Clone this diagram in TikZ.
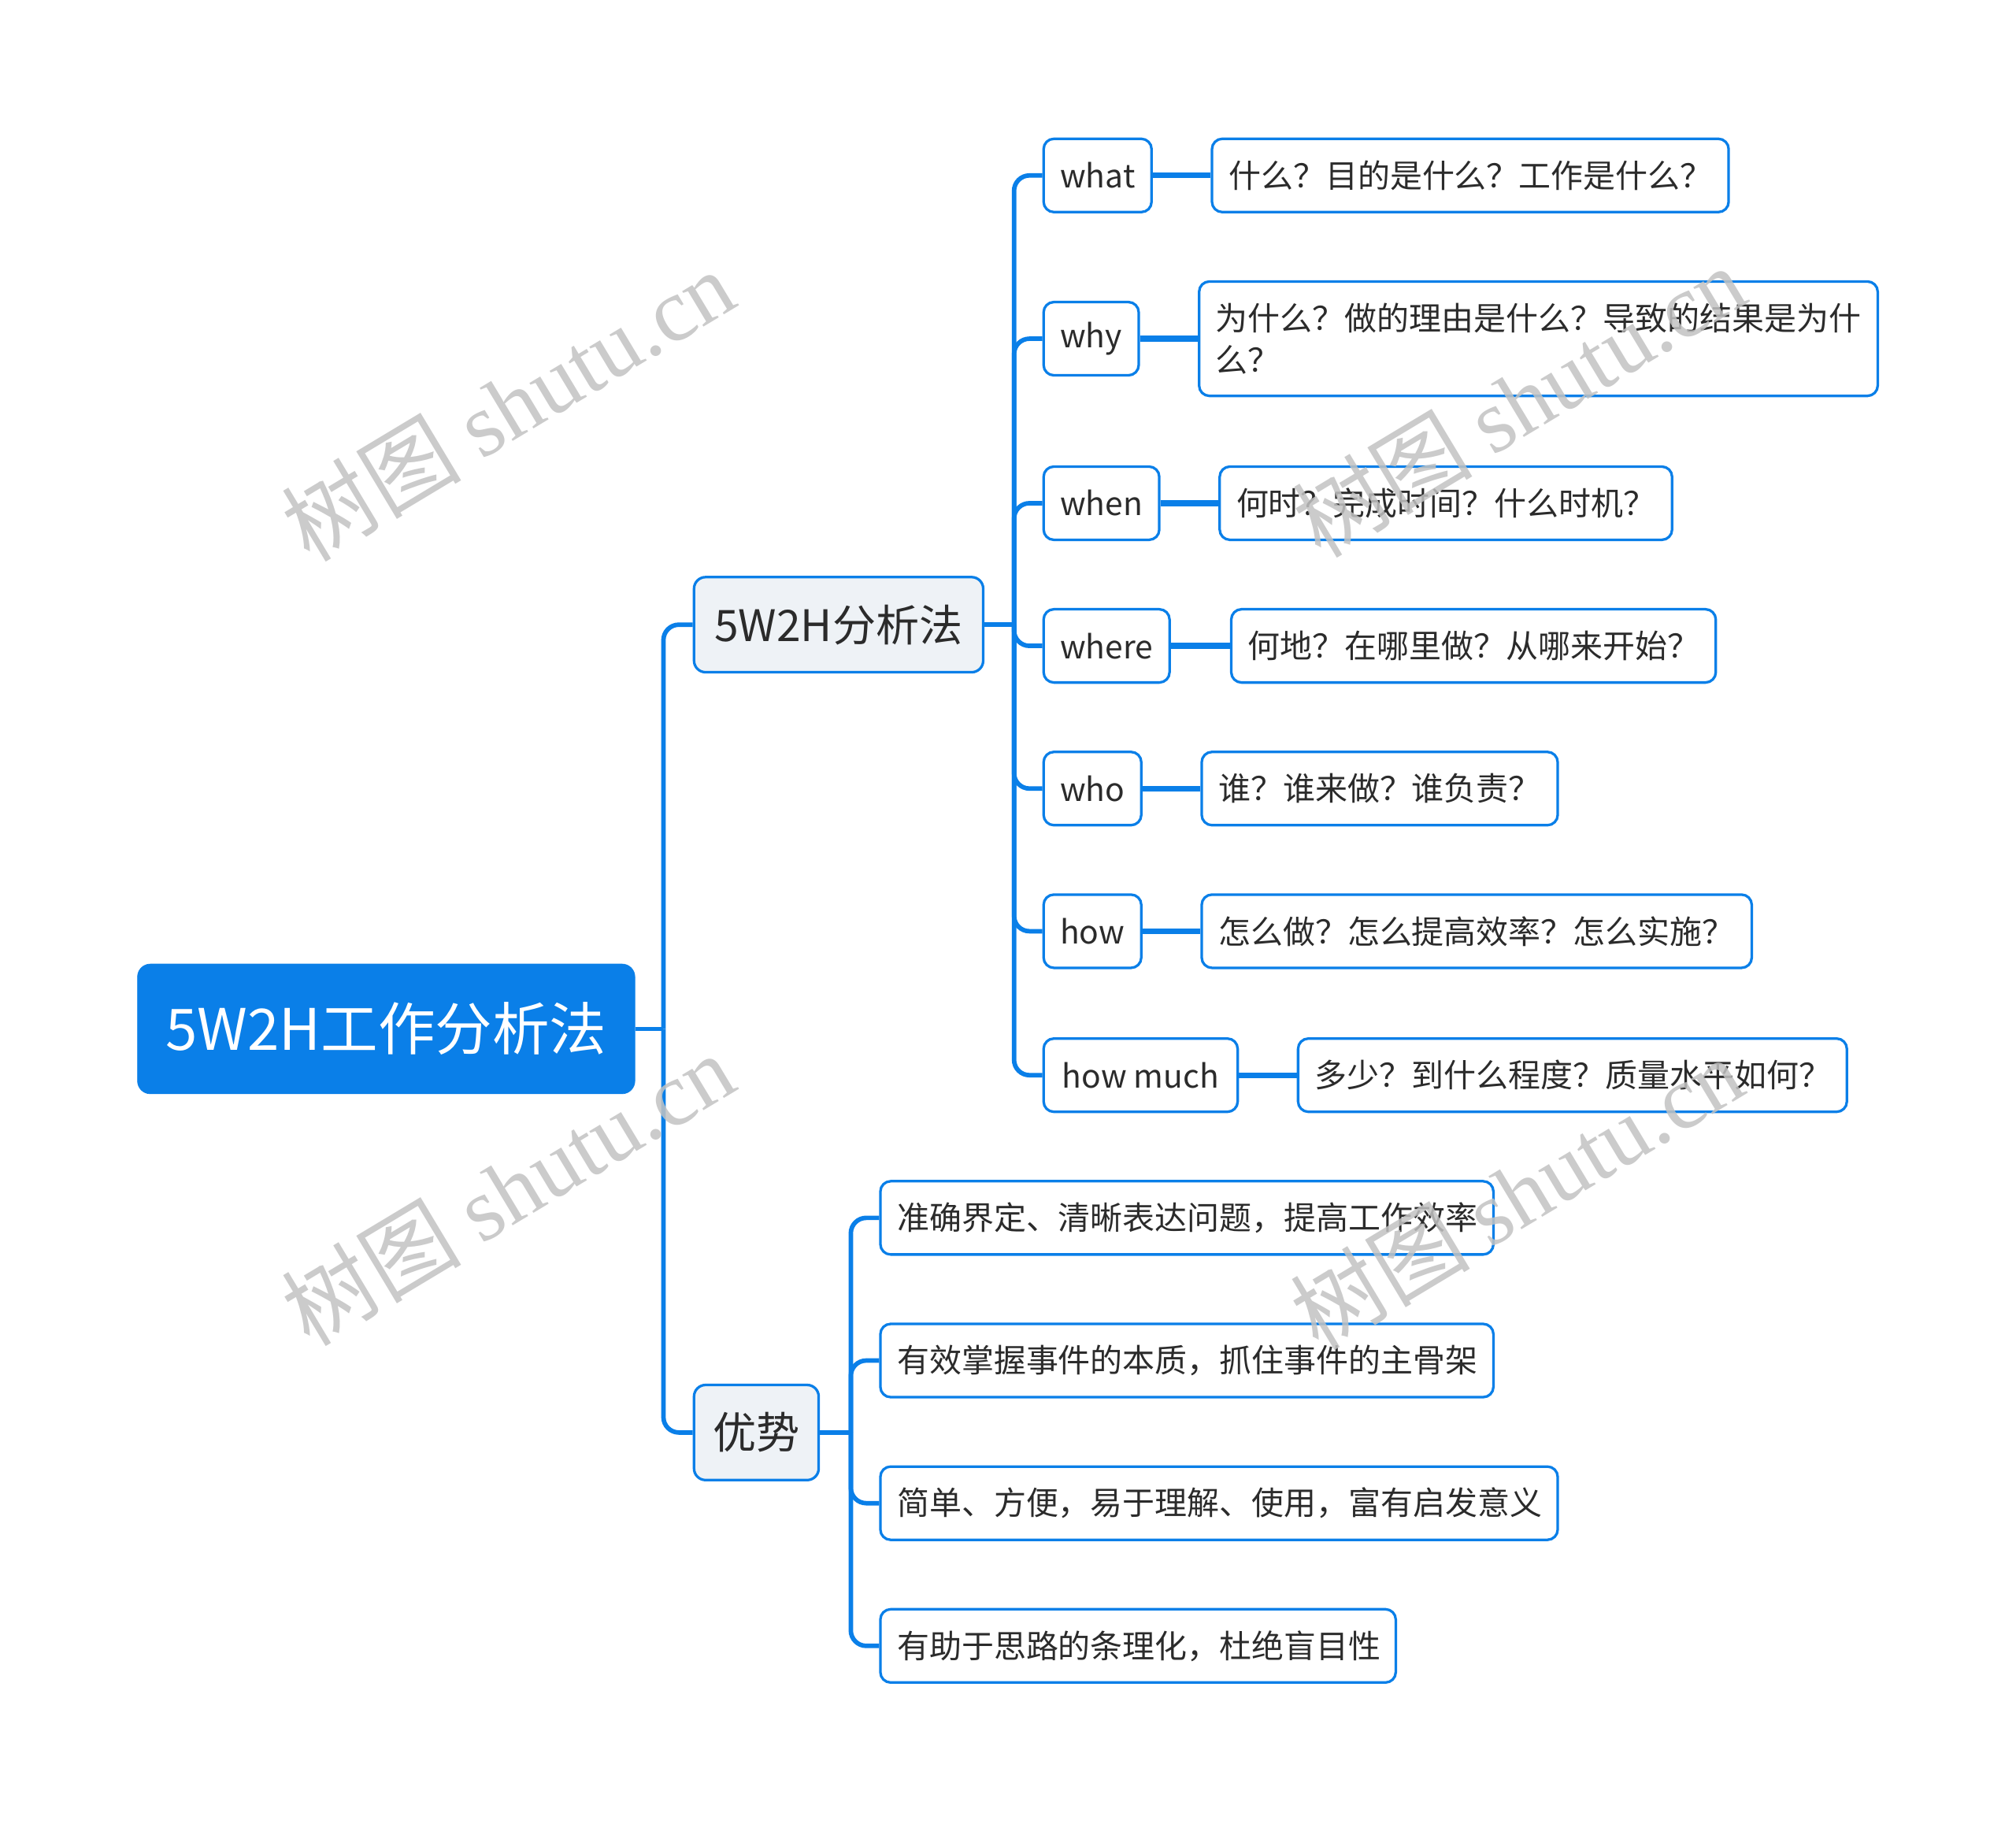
\documentclass[tikz,border=0pt]{standalone}
\usepackage{fontspec}
\setmainfont{Noto Sans CJK SC}
\newfontfamily\wmserif{Liberation Serif}
\usetikzlibrary{calc}
\definecolor{mblue}{HTML}{0A7FE8}
\definecolor{lbox}{HTML}{EEF2F6}
\definecolor{txt}{HTML}{2B2B2B}
\definecolor{wm}{HTML}{C2C2C2}
\tikzset{
  rootbox/.style={fill=mblue, draw=mblue, rounded corners=10pt, text=white,
    font=\fontsize{44.5}{50}\selectfont, inner sep=0pt, minimum width=387pt, minimum height=101pt},
  lonebox/.style={fill=lbox, draw=mblue, line width=2pt, rounded corners=9pt, text=txt,
    font=\fontsize{33.8}{40}\selectfont, inner sep=0pt, minimum height=74pt},
  wbox/.style={fill=white, draw=mblue, line width=2pt, rounded corners=8pt, text=txt,
    font=\fontsize{25}{33}\selectfont, inner sep=0pt, minimum height=57pt},
  leafbox/.style={fill=white, draw=mblue, line width=2pt, rounded corners=8pt, text=txt,
    font=\fontsize{25.1}{32}\selectfont, inner xsep=13pt, inner ysep=0pt,
    minimum height=57pt, align=left, anchor=west},
  trunk/.style={draw=mblue, line width=3.5pt, rounded corners=12pt},
  link/.style={draw=mblue, line width=4.5pt},
  wmark/.style={text=wm, opacity=0.85, rotate=31, font=\fontsize{70}{70}\selectfont, inner sep=0pt}
}
\begin{document}
\begin{tikzpicture}[x=1pt,y=-1pt]
\useasboundingbox[fill=white] (0,0) rectangle (1568.6,1418.5);

% root and level 1
\node[rootbox] (root) at (300.5,800.5) {5W2H工作分析法};
\node[lonebox, minimum width=225pt] (A) at (652.5,486) {5W2H分析法};
\node[lonebox, minimum width=97pt] (B) at (588.5,1114.5) {优势};

% 5W2H children
\node[wbox, minimum width=84pt] (what) at (854,136.5) {what};
\node[wbox, minimum width=74pt] (why) at (849,263.5) {why};
\node[wbox, minimum width=90pt] (when) at (857,391.5) {when};
\node[wbox, minimum width=98pt] (where) at (861,502.5) {where};
\node[wbox, minimum width=76pt] (who) at (850,613.5) {who};
\node[wbox, minimum width=76pt] (how) at (850,724.5) {how};
\node[wbox, minimum width=151pt] (howmuch) at (887.5,836.5) {how much};

% leaves
\node[leafbox, text width=376pt] (L1) at (942,136.5) {什么？目的是什么？工作是什么？};
\node[leafbox, text width=502pt, minimum height=89pt] (L2) at (932,263.5) {为什么？做的理由是什么？导致的结果是为什\\么？};
\node[leafbox, text width=326pt] (L3) at (948,391.5) {何时？完成时间？什么时机？};
\node[leafbox, text width=351pt] (L4) at (957,502.5) {何地？在哪里做？从哪来开始？};
\node[leafbox, text width=251pt] (L5) at (934,613.5) {谁？谁来做？谁负责？};
\node[leafbox, text width=402pt] (L6) at (934,724.5) {怎么做？怎么提高效率？怎么实施？};
\node[leafbox, text width=401pt] (L7) at (1009,836.5) {多少？到什么程度？质量水平如何？};

% advantages
\node[leafbox, text width=451pt] (M1) at (684,947.5) {准确界定、清晰表达问题，提高工作效率};
\node[leafbox, text width=451pt] (M2) at (684,1058.5) {有效掌握事件的本质，抓住事件的主骨架};
\node[leafbox, text width=501pt] (M3) at (684,1169.5) {简单、方便，易于理解、使用，富有启发意义};
\node[leafbox, text width=375pt] (M4) at (684,1280.5) {有助于思路的条理化，杜绝盲目性};

% junctions
\coordinate (j0) at ($(root.east)+(22,0)$);
\coordinate (j1) at ($(A.east)+(23,0)$);
\coordinate (j2) at ($(B.east)+(24,0)$);

% connectors
\draw[mblue, line width=3.5pt] (root.east) -- (j0);
\draw[trunk] (j0) |- (A.west);
\draw[trunk] (j0) |- (B.west);
\draw[mblue, line width=3.5pt] (A.east) -- (j1);
\foreach \n in {what,why,when,where,who,how,howmuch}{
  \draw[trunk] (j1) |- (\n.west);
}
\draw[mblue, line width=3.5pt] (B.east) -- (j2);
\foreach \n in {M1,M2,M3,M4}{
  \draw[trunk] (j2) |- (\n.west);
}
\draw[link] (what.east) -- (L1.west);
\draw[link] (why.east) -- (L2.west);
\draw[link] (when.east) -- (L3.west);
\draw[link] (where.east) -- (L4.west);
\draw[link] (who.east) -- (L5.west);
\draw[link] (how.east) -- (L6.west);
\draw[link] (howmuch.east) -- (L7.west);

% watermarks
\node[wmark] (wm1) at (395,315) {树图 {\wmserif shutu.cn}};
\node[wmark] (wm2) at (395,925) {树图 {\wmserif shutu.cn}};
\node[wmark] (wm3) at (1182,312) {树图 {\wmserif shutu.cn}};
\node[wmark] (wm4) at (1180,928) {树图 {\wmserif shutu.cn}};
\end{tikzpicture}
\end{document}
